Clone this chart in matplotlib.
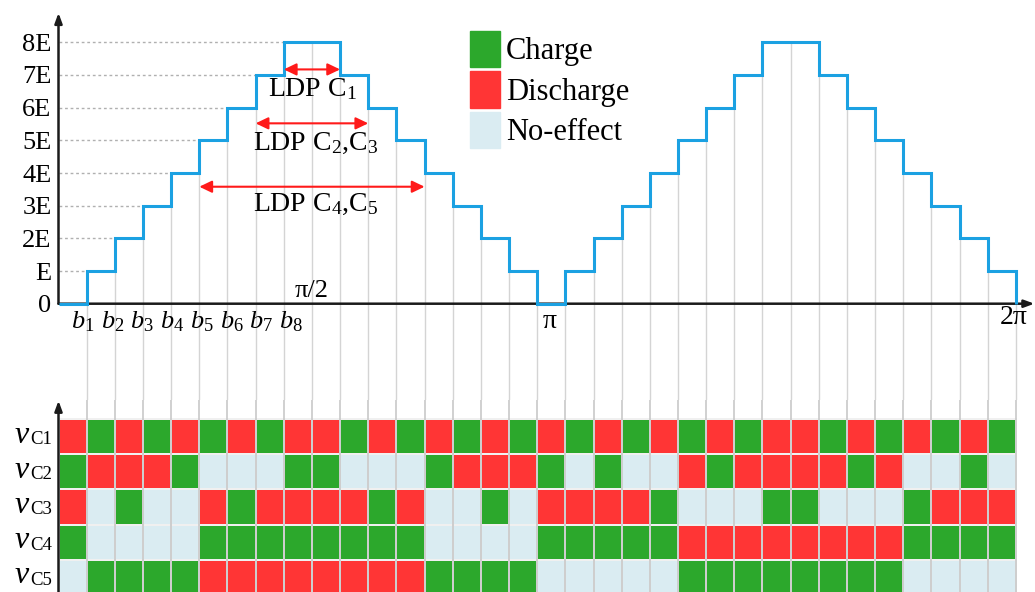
import numpy as np
import matplotlib
matplotlib.use('Agg')
import matplotlib.pyplot as plt
from matplotlib.colors import ListedColormap
from matplotlib.patches import Patch

plt.rcParams['font.family'] = ['Liberation Serif', 'DejaVu Serif']
plt.rcParams['mathtext.fontset'] = 'custom'
plt.rcParams['mathtext.rm'] = 'Liberation Serif'
plt.rcParams['mathtext.it'] = 'Liberation Serif:italic'

# output level (in units of E) for each of the 34 switching intervals over 0..2pi
levels = [0, 1, 2, 3, 4, 5, 6, 7, 8, 8, 7, 6, 5, 4, 3, 2, 1,
          0, 1, 2, 3, 4, 5, 6, 7, 8, 8, 7, 6, 5, 4, 3, 2, 1]
level_labels = ['0', 'E', '2E', '3E', '4E', '5E', '6E', '7E', '8E']
b_labels = [r'$b_{%d}$' % k for k in range(1, 9)]

# capacitor state per interval: C = charge, D = discharge, N = no effect
vc1 = 'DCDCDCDCDDCDCDCDC' + 'DCDCDCDCDDCDCDCDC'
vc2 = 'CDDDCNNNCCNNNCDDD' + 'CNCNNDCDDDDCDNNCN'
vc3 = 'DNCNNDCDDDDCDNNCN' + 'DDDDCNNNCCNNNCDDD'
vc4 = 'CNNNNCCCCCCCCNNNN' + 'CCCCCDDDDDDDDCCCC'
vc5 = 'NCCCCDDDDDDDDCCCC' + 'NNNNNCCCCCCCCNNNN'
row_subs = ['C1', 'C2', 'C3', 'C4', 'C5']
state_names = ['Charge', 'Discharge', 'No-effect']

# LDP spans: start interval, end interval, arrow height, label, label x, label y
ldp = [(8, 10, 7.17, 'LDP C$_1$', 9.0, 6.36),
       (7, 11, 5.52, 'LDP C$_2$,C$_3$', 9.14, 4.70),
       (5, 13, 3.58, 'LDP C$_4$,C$_5$', 9.14, 2.85)]

green, red, light = '#2ca82c', '#ff3535', '#daecf2'
blue = '#1ba1e2'
grid_c = '#d4d4d4'
arrow_k = dict(arrowstyle='-|>,head_length=0.6,head_width=0.22',
               color='#1a1a1a', lw=1.8, shrinkA=0, shrinkB=0)

n = len(levels)
edges = np.arange(n + 1)

fig = plt.figure(figsize=(10.35, 5.92), dpi=100)
left = 58.5 / 1035
width = 1 - left
split = (592 - 400) / 592
ax = fig.add_axes([left, split, width, 1 - split - 10 / 592])
ax2 = fig.add_axes([left, 0, width, split])

xmax = (1035 - 58.5) / 28.16
ax.set_xlim(0, xmax)
ax.set_ylim(-(400 - 303.7) / 32.675, (303.7 - 10) / 32.675)
ax2.set_xlim(0, xmax)
ax2.set_ylim((592 - 419) / 35.2, -(419 - 400) / 35.2)

for a in (ax, ax2):
    for s in a.spines.values():
        s.set_visible(False)
    a.set_xticks([])

# ---- upper: staircase waveform ----
ybot = ax.get_ylim()[0]
for i in range(1, n + 1):
    nxt = levels[i] if i < n else 0
    ax.vlines(i, ybot, min(levels[i - 1], nxt), color=grid_c, lw=1, zorder=1)
for k in range(1, 9):
    ax.hlines(k, 0, k, color='#b0b0b0', lw=1, linestyle=(0, (2, 2)), zorder=1)

ax.annotate('', xy=(xmax - 0.02, 0), xytext=(0, 0), arrowprops=arrow_k,
            zorder=2, annotation_clip=False)
ax.annotate('', xy=(0, 8.9), xytext=(0, 0), arrowprops=arrow_k,
            zorder=2, annotation_clip=False)

ax.stairs(levels, edges, baseline=0, color=blue, lw=2.2, zorder=4)

ax.set_yticks(range(9), level_labels, fontsize=19)
ax.tick_params(axis='y', length=0, pad=5)

for x, lab in zip(np.linspace(0.86, 8.26, 8), b_labels):
    ax.text(x, -0.745, lab, fontsize=19, ha='center', va='baseline')
ax.text(9.0, 0.22, 'π/2', fontsize=19, ha='center', va='baseline')
ax.text(17.45, -0.75, 'π', fontsize=20, ha='center', va='baseline')
ax.text(33.93, -0.62, '2π', fontsize=20, ha='center', va='baseline')

for x0, x1, y, txt, tx, ty in ldp:
    ax.annotate('', xy=(x1, y), xytext=(x0, y),
                arrowprops=dict(arrowstyle='<|-|>,head_length=0.75,head_width=0.36',
                                color='#ff1a1a', lw=1.5, shrinkA=0, shrinkB=0),
                zorder=5)
    ax.text(tx, ty, txt, fontsize=20, ha='center', va='baseline', zorder=6)

ax.legend(handles=[Patch(color=c, label=l) for c, l in zip([green, red, light], state_names)],
          loc='upper left', bbox_to_anchor=(470 / 1035, 1 - 31 / 592),
          bbox_transform=fig.transFigure, frameon=False, fontsize=22,
          handlelength=0.98, handleheight=1.45, labelspacing=0.13,
          handletextpad=0.2, borderpad=0, borderaxespad=0)

# ---- lower: capacitor state table ----
code = {'C': 0, 'D': 1, 'N': 2}
states = np.array([[code[s] for s in row] for row in (vc1, vc2, vc3, vc4, vc5)])
ax2.pcolormesh(edges, np.arange(6), states, cmap=ListedColormap([green, red, light]),
               vmin=-0.5, vmax=2.5, edgecolors='#f0f0f0', linewidth=1.2, zorder=1)
yt, yb = ax2.get_ylim()[1], ax2.get_ylim()[0]
ax2.vlines(edges[1:], yt, yb, color='#c4c4c4', lw=1.1, zorder=2)
ax2.annotate('', xy=(0, yt + 0.02), xytext=(0, yb), arrowprops=arrow_k,
             zorder=3, annotation_clip=False)
ax2.set_yticks([])

# row labels: italic v followed by a small upright capacitor name
for r, sub in enumerate(row_subs):
    c = ax2.text(-0.23, r + 0.71, sub, fontsize=13.5, ha='right', va='baseline',
                 clip_on=False)
    ax2.annotate('$v$', xy=(0, 0), xycoords=c, xytext=(0, -1.2),
                 textcoords='offset points', ha='right', va='bottom', fontsize=23,
                 annotation_clip=False)

fig.savefig('out.png', dpi=100)
